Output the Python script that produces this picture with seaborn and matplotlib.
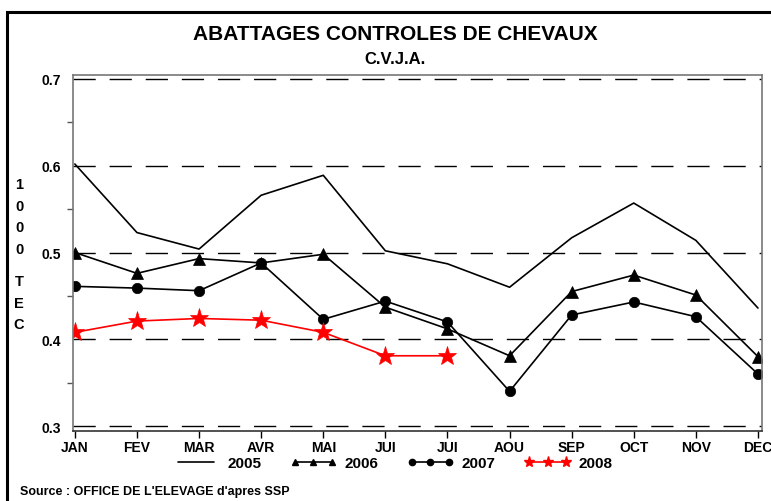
import matplotlib
matplotlib.use("Agg")
import matplotlib.pyplot as plt
from matplotlib.lines import Line2D
from matplotlib.patches import Rectangle
from matplotlib.ticker import MultipleLocator, FuncFormatter
import seaborn as sns
import pandas as pd
import numpy as np

months = ["JAN", "FEV", "MAR", "AVR", "MAI", "JUI", "JUI", "AOU", "SEP", "OCT", "NOV", "DEC"]
v2005 = [0.602, 0.523, 0.504, 0.566, 0.589, 0.502, 0.487, 0.460, 0.517, 0.557, 0.514, 0.436]
v2006 = [0.500, 0.476, 0.493, 0.488, 0.498, 0.437, 0.412, 0.381, 0.455, 0.474, 0.451, 0.380]
v2007 = [0.461, 0.459, 0.456, 0.488, 0.423, 0.444, 0.420, 0.340, 0.428, 0.443, 0.426, 0.360]
v2008 = [0.408, 0.421, 0.424, 0.422, 0.408, 0.381, 0.381]
years = ["2005", "2006", "2007", "2008"]

sns.set_theme(style="white")
plt.rcParams["font.family"] = ["Liberation Sans", "DejaVu Sans"]
plt.rcParams["font.weight"] = "bold"
plt.rcParams["text.color"] = "black"

fig = plt.figure(figsize=(7.71, 5.02), dpi=100)
ax = fig.add_axes([73 / 771, 1 - 432 / 502, (762 - 73) / 771, (432 - 76) / 502])

series = {"2005": v2005, "2006": v2006, "2007": v2007, "2008": v2008}
styles = {
    "2005": dict(color="black", marker=None, ms=0, lw=1.2),
    "2006": dict(color="black", marker="^", ms=8, lw=1.2),
    "2007": dict(color="black", marker="o", ms=7.5, lw=1.2),
    "2008": dict(color="red", marker="*", ms=14, lw=1.2),
}
for y in years:
    vals = series[y]
    df = pd.DataFrame({"x": np.arange(len(vals)), "v": vals})
    st = styles[y]
    kw = {}
    if st["marker"]:
        kw = dict(marker=st["marker"], markersize=st["ms"], markeredgecolor=st["color"],
                  markerfacecolor=st["color"], markeredgewidth=0.5)
    sns.lineplot(data=df, x="x", y="v", ax=ax, color=st["color"], lw=st["lw"], **kw)

ax.set_xlim(-0.03, 11.065)
ax.set_ylim(0.2943, 0.7046)
ax.set_xticks(np.arange(12))
ax.set_xticklabels(months)
ax.yaxis.set_major_locator(MultipleLocator(0.1))
ax.yaxis.set_minor_locator(MultipleLocator(0.05))
ax.yaxis.set_major_formatter(FuncFormatter(lambda v, p: f"{v:.1f}"))
ax.set_xlabel("")
ax.set_ylabel("")

for yv in [0.3, 0.4, 0.5, 0.6, 0.7]:
    ax.axhline(yv, color="black", lw=1.0, dashes=(16, 10), zorder=0.5)

ax.tick_params(axis="y", which="major", direction="inout", length=10, width=1,
               color="black", labelsize=10, pad=4)
ax.tick_params(axis="y", which="minor", direction="out", length=4, width=1, color="#555555", left=True)
ax.tick_params(axis="x", which="major", direction="out", length=5, width=1, color="black",
               labelsize=10, pad=1.5, bottom=True)
for lab in ax.get_xticklabels() + ax.get_yticklabels():
    lab.set_fontweight("bold")
    lab.set_color("black")

for side in ["left", "right", "top"]:
    ax.spines[side].set_color("#777777")
    ax.spines[side].set_linewidth(1.2)
ax.spines["bottom"].set_color("#333333")
ax.spines["bottom"].set_linewidth(1.2)

# Title texts
fig.text(395 / 771, 1 - 35 / 502, "ABATTAGES CONTROLES DE CHEVAUX", ha="center", va="center",
         fontsize=15, fontweight="bold", color="black")
fig.text(395 / 771, 1 - 60 / 502, "C.V.J.A.", ha="center", va="center",
         fontsize=12, fontweight="bold", color="black")

# Vertical stacked y label
for ch, yy in zip(["1", "0", "0", "0", "T", "E", "C"], [185, 207, 228, 250, 282, 304, 325]):
    fig.text(19 / 771, 1 - yy / 502, ch, ha="center", va="center", fontsize=10.5,
             fontweight="bold", color="black")

# Legend
handles = [
    Line2D([], [], color="black", lw=1.2),
    Line2D([], [], color="black", lw=1.2, marker="^", ms=4.5),
    Line2D([], [], color="black", lw=1.2, marker="o", ms=4.5),
    Line2D([], [], color="red", lw=1.2, marker="*", ms=8),
]
leg = fig.legend(handles, years, loc="center", bbox_to_anchor=(393 / 771, 1 - 464 / 502),
                 ncol=4, frameon=False, numpoints=3, handlelength=3.0, handletextpad=0.55,
                 columnspacing=1.9, prop=dict(size=11, weight="bold"))
for t in leg.get_texts():
    t.set_color("black")

fig.text(20 / 771, 1 - 492 / 502, "Source : OFFICE DE L'ELEVAGE d'apres SSP", ha="left",
         va="center", fontsize=9, fontweight="bold", color="black")

# Outer frame
fig.patches.append(Rectangle((7 / 771, -0.1), 1.2, 1 - 13 / 502 + 0.1, transform=fig.transFigure,
                             fill=False, edgecolor="black", lw=2.2, zorder=10))

fig.savefig("out.png", dpi=100)
